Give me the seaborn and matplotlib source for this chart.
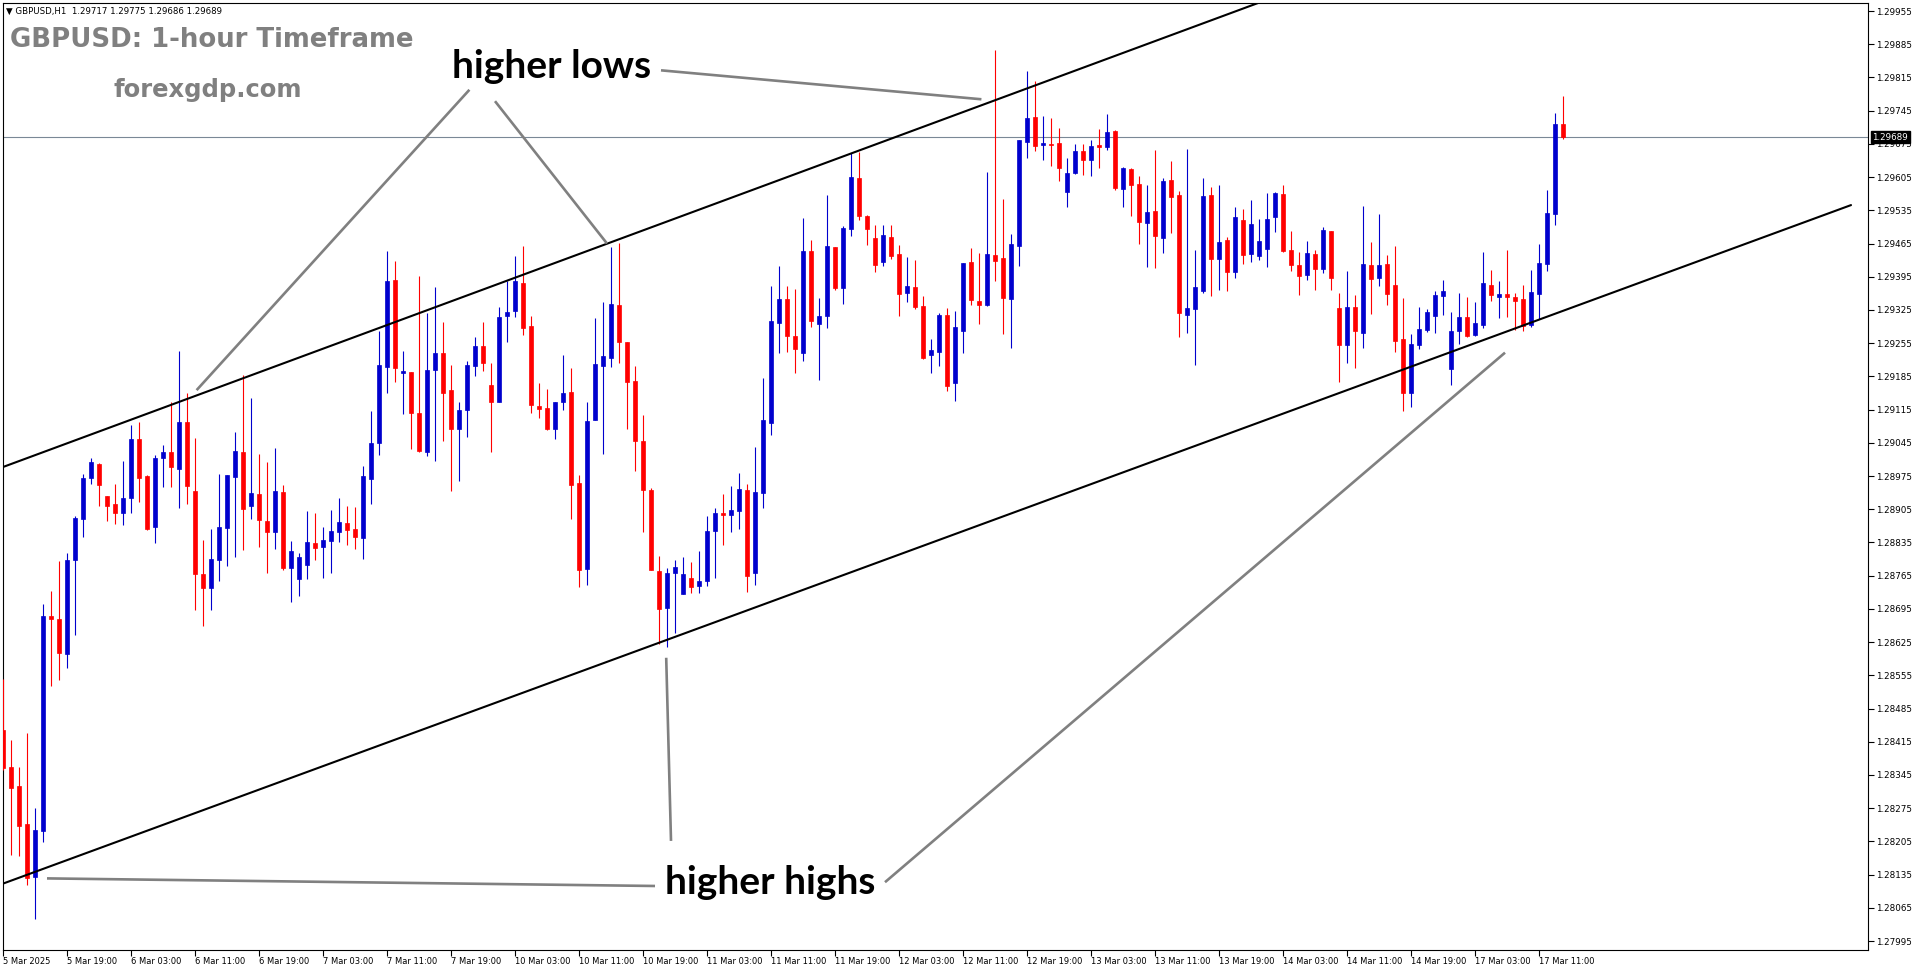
import matplotlib
matplotlib.use("Agg")
import matplotlib.pyplot as plt
import seaborn as sns
import numpy as np
import pandas as pd
from matplotlib.transforms import blended_transform_factory

sns.set_theme(style="white")
plt.rcParams["font.family"] = ["DejaVu Sans"]

# ---------------- data (prices in points, 1 point = 0.00001) ----------------
opens = [128439,128362,128322,128242,128130,128227,128681,128673,128600,128798,
         128884,128970,129001,128933,128917,128898,128928,129053,128974,128867,
         129014,129026,128990,129089,128944,128768,128738,128798,128865,128972,
         129026,128912,128938,128881,128857,128942,128782,128758,128788,128833,
         128825,128838,128858,128875,128863,128845,128968,129045,129205,129388,
         129193,129195,129108,129026,129199,129234,129156,129075,129115,129207,
         129250,129167,129130,129313,129322,129382,129291,129123,129118,129075,
         129132,129153,128960,128780,129094,129207,129224,129335,129258,129175,
         129049,128946,128775,128697,128771,128727,128761,128744,128754,128860,
         128898,128893,128902,128946,128770,128940,129087,129298,129349,129271,
         129235,129449,129296,129313,129458,129372,129496,129603,129524,129477,
         129427,129479,129442,129361,129373,129333,129231,129237,129314,129170,
         129281,129426,129344,129335,129440,129434,129349,129459,129680,129732,
         129673,129675,129677,129574,129614,129660,129642,129673,129669,129702,
         129579,129622,129590,129509,129533,129477,129599,129567,129315,129328,
         129365,129567,129432,129472,129406,129514,129443,129439,129454,129520,
         129570,129451,129420,129399,129442,129412,129492,129329,129252,129331,
         129277,129420,129393,129422,129378,129263,129151,129252,129283,129313,
         129355,129201,129281,129310,129273,129294,129378,129353,129359,129352,
         129348,129294,129359,129422,129528,129717]
highs = [128547,128418,128362,128434,128275,128705,128732,128796,128813,128890,
         128979,129014,129002,128933,128959,129007,129083,129089,128977,129019,
         129041,129132,129238,129151,129055,128841,128864,128980,128978,129067,
         129188,129140,129022,129005,129035,128956,128838,128813,128902,128898,
         128867,128904,128929,128911,128910,128997,129113,129281,129450,129428,
         129238,129195,129396,129319,129373,129300,129209,129130,129217,129269,
         129300,129213,129331,129385,129439,129460,129312,129171,129158,129130,
         129230,129203,128977,129131,129308,129342,129458,129467,129258,129207,
         129104,128950,128806,128781,128797,128804,128794,128816,128891,128908,
         128937,128955,128981,128958,129037,129182,129376,129418,129376,129369,
         129519,129472,129351,129567,129458,129502,129655,129658,129525,129504,
         129504,129504,129462,129437,129430,129354,129264,129319,129329,129323,
         129424,129455,129444,129616,129873,129559,129485,129683,129829,129808,
         129734,129730,129708,129645,129675,129675,129683,129706,129738,129704,
         129627,129624,129607,129588,129662,129604,129639,129575,129665,129451,
         129603,129584,129588,129479,129541,129538,129557,129517,129572,129574,
         129588,129492,129447,129470,129451,129500,129492,129361,129407,129356,
         129544,129468,129527,129440,129460,129350,129274,129331,129328,129365,
         129388,129321,129361,129353,129341,129447,129409,129385,129451,129361,
         129378,129409,129465,129578,129740,129775]
lows = [128356,128177,128175,128113,128042,128203,128533,128545,128570,128641,
        128847,128959,128912,128881,128873,128871,128898,128921,128861,128833,
        128951,128951,128907,128915,128692,128658,128692,128754,128785,128805,
        128820,128884,128825,128771,128821,128776,128709,128723,128758,128799,
        128761,128770,128836,128829,128821,128800,128916,129019,129149,129174,
        129106,129031,129026,129018,129007,129049,128944,128965,129058,129186,
        129197,129026,129130,129258,129310,129273,129108,129098,129072,129054,
        129114,128885,128742,128745,129094,129021,129205,129214,129075,128986,
        128856,128776,128622,128615,128645,128727,128728,128728,128744,128760,
        128830,128857,128863,128731,128745,128907,129062,129235,129237,129192,
        129218,129290,129177,129288,129367,129338,129481,129514,129462,129406,
        129418,129432,129313,129342,129328,129222,129193,129207,129155,129134,
        129235,129335,129296,129334,129385,129275,129245,129418,129646,129659,
        129640,129629,129597,129543,129611,129610,129608,129625,129662,129578,
        129543,129524,129465,129416,129413,129446,129488,129269,129277,129210,
        129361,129355,129367,129365,129393,129421,129427,129430,129416,129490,
        129447,129408,129357,129388,129368,129402,129368,129174,129214,129203,
        129245,129317,129376,129336,129237,129111,129121,129243,129278,129277,
        129315,129167,129253,129269,129271,129286,129344,129309,129311,129283,
        129281,129290,129306,129408,129504,129686]
closes = [128360,128318,128237,128127,128229,128679,128673,128603,128797,128886,
          128971,129005,128957,128911,128898,128929,129052,128970,128864,129014,
          129026,128994,129089,128953,128768,128738,128801,128867,128978,129028,
          128905,128940,128882,128857,128944,128782,128818,128805,128835,128823,
          128841,128860,128879,128861,128847,128974,129045,129209,129386,129203,
          129196,129107,129028,129198,129234,129151,129075,129114,129209,129250,
          129214,129130,129310,129321,129385,129288,129125,129117,129074,129130,
          129151,128957,128778,129092,129212,129229,129338,129258,129174,129049,
          128946,128776,128695,128771,128783,128769,128742,128754,128859,128898,
          128893,128903,128948,128765,128942,129094,129302,129349,129271,129243,
          129449,129302,129312,129460,129371,129498,129606,129524,129496,129420,
          129483,129439,129359,129375,129332,129224,129241,129315,129165,129289,
          129424,129346,129336,129442,129428,129351,129464,129683,129730,129671,
          129677,129673,129625,129614,129660,129642,129671,129668,129700,129581,
          129625,129589,129511,129531,129481,129597,129562,129319,129329,129373,
          129565,129432,129468,129406,129521,129440,129506,129470,129517,129572,
          129449,129420,129397,129445,129412,129494,129393,129252,129331,129281,
          129422,129391,129420,129359,129260,129151,129253,129285,129321,129357,
          129365,129281,129310,129271,129298,129382,129357,129359,129353,129344,
          129292,129363,129424,129529,129717,129689]

time_labels = ["5 Mar 2025", "5 Mar 19:00", "6 Mar 03:00", "6 Mar 11:00", "6 Mar 19:00",
               "7 Mar 03:00", "7 Mar 11:00", "7 Mar 19:00", "10 Mar 03:00", "10 Mar 11:00",
               "10 Mar 19:00", "11 Mar 03:00", "11 Mar 11:00", "11 Mar 19:00", "12 Mar 03:00",
               "12 Mar 11:00", "12 Mar 19:00", "13 Mar 03:00", "13 Mar 11:00", "13 Mar 19:00",
               "14 Mar 03:00", "14 Mar 11:00", "14 Mar 19:00", "17 Mar 03:00", "17 Mar 11:00"]
label_step = 8
price_ticks = [1.27995 + 0.0007 * k for k in range(29)]
last_price = 1.29689
header = "\u25BC GBPUSD,H1  1.29717 1.29775 1.29686 1.29689"

# trend channel anchors (bar index, price)
upper_channel = ([0, 156.9], [1.28994, 1.29972])
lower_channel = ([0, 231.0], [1.28116, 1.29546])
# grey pointer lines (bar index, price)
pointers = [
    ([58.3, 24.2], [1.29789, 1.29156]),
    ([61.5, 75.5], [1.29765, 1.29465]),
    ([82.25, 122.3], [1.29830, 1.29769]),
    ([81.5, 5.5], [1.28111, 1.28127]),
    ([83.5, 82.9], [1.28206, 1.28592]),
    ([110.25, 187.75], [1.28119, 1.29235]),
]
labels_txt = [("higher lows", 68.6, 1.29813), ("higher highs", 95.9, 1.28095)]

# ---------------- figure ----------------
W, H = 1916, 964
fig = plt.figure(figsize=(W / 100, H / 100), dpi=100)
fig.patch.set_facecolor("white")
ax = fig.add_axes([2.5 / W, 14 / H, 1865 / W, 947 / H])
ax.set_facecolor("white")

df = pd.DataFrame({"o": opens, "h": highs, "l": lows, "c": closes}) / 1e5
df["i"] = np.arange(len(df))
up = df["c"] >= df["o"]
cols = np.where(up, "#0000cd", "#ff0000")

ax.axhline(last_price, color="#7a8896", lw=0.8, zorder=1)
ax.vlines(df["i"], df["l"], df["h"], colors=cols, lw=0.8, zorder=3)
ax.bar(df["i"], (df["c"] - df["o"]).abs(), bottom=np.minimum(df["o"], df["c"]),
       width=0.55, color=cols, edgecolor=cols, linewidth=0.5, zorder=4)

for xs, ys in (upper_channel, lower_channel):
    sns.lineplot(x=xs, y=ys, ax=ax, color="black", lw=1.5, zorder=5)
for xs, ys in pointers:
    ax.plot(xs, ys, color="#808080", lw=1.9, solid_capstyle="butt", zorder=5)
for txt, xi, yp in labels_txt:
    ax.text(xi, yp, txt, ha="center", va="baseline", fontsize=28,
            fontfamily=["Lato", "DejaVu Sans"], fontweight="bold", color="black", zorder=6)

ax.set_xlim(-0.0625, 233.06)
ax.set_ylim(1.279761, 1.299719)

ax.set_xticks(np.arange(len(time_labels)) * label_step)
ax.set_xticklabels(time_labels)
for lbl in ax.get_xticklabels():
    lbl.set_horizontalalignment("left")
ax.tick_params(axis="x", direction="out", length=4, width=0.8, pad=1, labelsize=6,
               colors="black", bottom=True)

ax.yaxis.tick_right()
ax.set_yticks(price_ticks)
ax.set_yticklabels([f"{t:.5f}" for t in price_ticks])
ax.tick_params(axis="y", direction="out", length=4, width=0.8, pad=2, labelsize=6.3,
               colors="black", right=True, left=False)
ax.set_xlabel("")
ax.set_ylabel("")
for s in ax.spines.values():
    s.set_visible(True)
    s.set_color("black")
    s.set_linewidth(0.8)
ax.grid(False)

tr = blended_transform_factory(ax.transAxes, ax.transData)
ax.text(1.0 + 5 / 1865, last_price, f"{last_price:.5f}", transform=tr, ha="left", va="center",
        fontsize=6.3, color="white", clip_on=False, zorder=10,
        bbox=dict(boxstyle="square,pad=0.15", fc="black", ec="black"))

fig.text(6 / W, 1 - 11 / H, header, fontsize=6.2, color="black", ha="left", va="center")
fig.text(10 / W, 1 - 47 / H, "GBPUSD: 1-hour Timeframe", fontsize=18.7, fontweight="bold",
         color="#808080", ha="left", va="baseline")
fig.text(113 / W, 1 - 97 / H, "forexgdp.com", fontsize=17.5, fontweight="bold",
         color="#808080", ha="left", va="baseline")

fig.savefig("out.png", dpi=100, facecolor="white")
